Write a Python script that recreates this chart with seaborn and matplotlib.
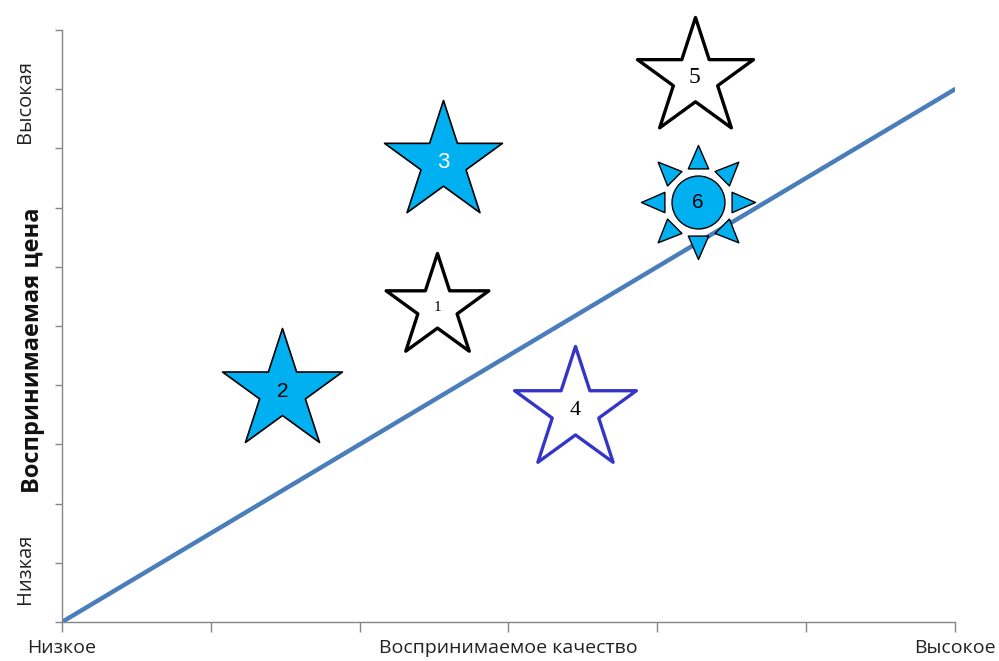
import numpy as np
import matplotlib
matplotlib.use("Agg")
import matplotlib.pyplot as plt
from matplotlib.path import Path
import seaborn as sns

# Brand positions on the perceived quality / perceived price map
brand_labels = ["1", "2", "3", "4", "5", "6"]
quality = [2.52, 1.48, 2.56, 3.45, 4.25, 4.27]
price = [5.32, 3.90, 7.77, 3.58, 9.19, 7.09]

# Value line (fair price for quality)
line_quality = [0, 6]
line_price = [0, 9.0]

x_tick_labels = ["Низкое", "", "", "Воспринимаемое качество", "", "", "Высокое"]

sns.set_theme(style="white")
plt.rcParams["font.family"] = ["Open Sans", "DejaVu Sans"]

fig = plt.figure(figsize=(9.99, 6.61), dpi=100)
ax = fig.add_axes([62 / 999, 39 / 661, 893 / 999, 592 / 661])


def sun_marker():
    """Circle with eight triangular rays, as one marker path."""
    parts = [Path.circle((0, 0), 26)]
    r_base, r_tip, half_w = 33, 56, 10
    for k in range(8):
        a = np.deg2rad(90 + 45 * k)
        d = np.array([np.cos(a), np.sin(a)])
        n = np.array([-np.sin(a), np.cos(a)])
        verts = [d * r_base + n * half_w, d * r_tip, d * r_base - n * half_w, d * r_base + n * half_w]
        parts.append(Path(verts, [Path.MOVETO, Path.LINETO, Path.LINETO, Path.CLOSEPOLY]))
    return Path.make_compound_path(*parts)


px_to_pt = 72 / 100
cyan = "#00B0F0"
styles = {
    "1": dict(marker="*", radius=54, face="white", edge="black", lw=2.4),
    "2": dict(marker="*", radius=63, face=cyan, edge="black", lw=1.2),
    "3": dict(marker="*", radius=62, face=cyan, edge="black", lw=1.2),
    "4": dict(marker="*", radius=64, face="white", edge="#3535C8", lw=2.4),
    "5": dict(marker="*", radius=61, face="white", edge="black", lw=2.4),
    "6": dict(marker=sun_marker(), radius=57, face=cyan, edge="black", lw=1.0),
}
text_styles = {
    "1": dict(color="black", family="Liberation Serif", size=11),
    "2": dict(color="black", family="Liberation Sans", size=15),
    "3": dict(color="white", family="Liberation Sans", size=16),
    "4": dict(color="black", family="Liberation Serif", size=16),
    "5": dict(color="black", family="Liberation Serif", size=17),
    "6": dict(color="black", family="Liberation Sans", size=15),
}

sns.lineplot(x=line_quality, y=line_price, ax=ax, color="#4A7EBB", linewidth=3.2, zorder=2)

for lab, xq, yp in zip(brand_labels, quality, price):
    st = styles[lab]
    ms = 2 * st["radius"] * px_to_pt
    sns.scatterplot(x=[xq], y=[yp], ax=ax, marker=st["marker"], s=ms ** 2,
                    color=st["face"], edgecolor=st["edge"], linewidth=st["lw"],
                    zorder=3, clip_on=False)
    ts = text_styles[lab]
    ax.text(xq, yp, lab, ha="center", va="center", color=ts["color"],
            fontfamily=ts["family"], fontsize=ts["size"], zorder=4)

ax.set_xlim(0, 6)
ax.set_ylim(0, 10)
ax.set_xticks(range(7))
ax.set_xticklabels(x_tick_labels, fontsize=14, color="#222222")
ax.set_yticks(range(11))
ax.set_yticklabels([])

for side in ("top", "right"):
    ax.spines[side].set_visible(False)
for side in ("left", "bottom"):
    ax.spines[side].set_color("#868686")
    ax.spines[side].set_linewidth(1.0)
ax.tick_params(axis="x", direction="out", length=7, width=1, color="#868686", pad=5, bottom=True)
ax.tick_params(axis="y", direction="out", length=5, width=1, color="#868686", left=True)

ax.set_ylabel("Воспринимаемая цена", fontsize=17, fontweight="bold", color="#111111")
ax.yaxis.set_label_coords(-0.019, 0.459)
ax.text(-0.041, 8.8, "Высокая", rotation=90, ha="center", va="center", fontsize=14.5,
        color="#222222", transform=ax.get_yaxis_transform())
ax.text(-0.041, 0.9, "Низкая", rotation=90, ha="center", va="center", fontsize=14.5,
        color="#222222", transform=ax.get_yaxis_transform())

fig.savefig("out.png", dpi=100)
